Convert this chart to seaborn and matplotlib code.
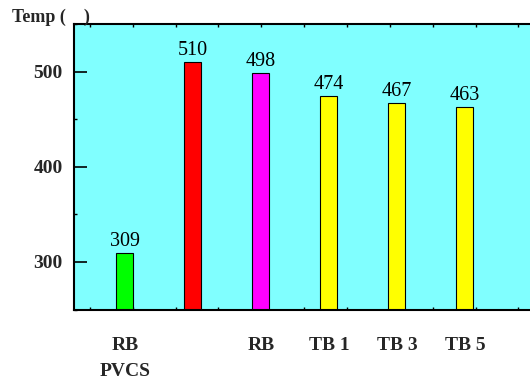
import numpy as np
import matplotlib
matplotlib.use("Agg")
import matplotlib.pyplot as plt
from matplotlib.ticker import FixedLocator, MultipleLocator
import seaborn as sns

# Peak temperatures per configuration
categories = ["RB\nPVCS", " ", "RB", "TB 1", "TB 3", "TB 5"]
temps = [309, 510, 498, 474, 467, 463]
bar_colors = ["#00FF00", "#FF0000", "#FF00FF", "#FFFF00", "#FFFF00", "#FFFF00"]
y_ticks = [300, 400, 500]

sns.set_theme(style="white")
plt.rcParams["font.family"] = ["Liberation Serif", "DejaVu Serif"]

fig = plt.figure(figsize=(5.30, 3.85), dpi=100)
ax = fig.add_axes([74 / 530, 1 - 309.5 / 385, 1 - 74 / 530, (309.5 - 24) / 385])
ax.set_facecolor("#80FFFF")

sns.barplot(x=categories, y=temps, hue=categories, palette=bar_colors,
            legend=False, width=0.25, edgecolor="black", linewidth=0.8,
            saturation=1, ax=ax)

for cont in ax.containers:
    ax.bar_label(cont, fmt="%d", padding=1.5, fontsize=14.5, color="black")

ax.set_ylim(250, 550)
ax.set_xlim(-0.75, 5.956)
ax.set_xlabel("")
ax.set_ylabel("")

ax.set_yticks(y_ticks)
ax.set_yticklabels([str(v) for v in y_ticks], fontsize=14, fontweight="bold")
ax.yaxis.set_minor_locator(MultipleLocator(50))
ax.tick_params(axis="y", which="major", direction="in", length=9.5, width=1.2,
               color="black", pad=8, left=True)
ax.tick_params(axis="y", which="minor", direction="in", length=2, width=1,
               color="black", left=True)

ax.set_xticks(range(len(categories)))
ax.set_xticklabels(categories, fontsize=14, fontweight="bold", linespacing=1.65)
ax.xaxis.set_minor_locator(FixedLocator(np.arange(-0.515, 5.95, 0.63)))
ax.tick_params(axis="x", which="major", length=0, pad=20)
ax.tick_params(axis="x", which="minor", direction="in", length=2, width=1,
               color="black", bottom=True, top=True)

for side in ["left", "top", "bottom"]:
    ax.spines[side].set_visible(True)
    ax.spines[side].set_color("black")
    ax.spines[side].set_linewidth(1.5)
ax.spines["right"].set_visible(False)

fig.text(12 / 530, 1 - 22 / 385, "Temp (    )", fontsize=13, fontweight="bold",
         va="baseline", ha="left")

fig.savefig("out.png", dpi=100)
